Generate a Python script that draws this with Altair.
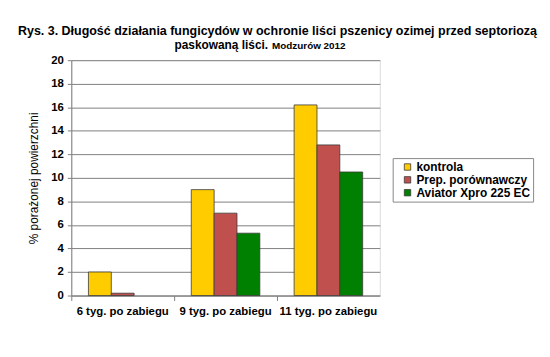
import altair as alt
import pandas as pd

categories = ["6 tyg. po zabiegu", "9 tyg. po zabiegu", "11 tyg. po zabiegu"]
series = ["kontrola", "Prep. porównawczy", "Aviator Xpro 225 EC"]
kontrola = [2.0, 9.0, 16.2]
prep = [0.2, 7.0, 12.8]
aviator = [0.0, 5.3, 10.5]
colors = ["#FFCC00", "#C0504D", "#008000"]
y_ticks = list(range(0, 21, 2))
title_line1 = "Rys. 3. Długość działania fungicydów w ochronie liści pszenicy ozimej przed septoriozą"
title_line2a = "paskowaną liści."
title_line2b = "Modzurów 2012"

rows = []
for s, vals in zip(series, [kontrola, prep, aviator]):
    for c, v in zip(categories, vals):
        rows.append({"okres": c, "seria": s, "wartosc": v})
df = pd.DataFrame(rows)

FONT = "Liberation Sans"

bars = alt.Chart(df).mark_bar(stroke="#3a3a3a", strokeWidth=0.8).encode(
    x=alt.X("okres:N", sort=categories, title=None,
            scale=alt.Scale(paddingInner=0, paddingOuter=0),
            axis=alt.Axis(labelAngle=0, bandPosition=0, grid=False,
                          labelFont=FONT, labelFontSize=11.5, labelFontWeight="bold",
                          labelColor="black", labelPadding=5, tickSize=5,
                          tickColor="#808080", domainColor="#808080")),
    xOffset=alt.XOffset("seria:N", sort=series,
                        scale=alt.Scale(paddingOuter=0.75, paddingInner=0)),
    y=alt.Y("wartosc:Q", title="% porażonej powierzchni",
            scale=alt.Scale(domain=[0, 20], nice=False),
            axis=alt.Axis(values=y_ticks, grid=True, gridColor="#808080",
                          gridWidth=1, labelFont=FONT, labelFontSize=11.5,
                          labelFontWeight="bold", labelColor="black",
                          labelPadding=4, tickSize=4, tickColor="#808080",
                          domainColor="#808080", titleFont=FONT,
                          titleFontSize=12, titleFontWeight="normal",
                          titleColor="black", titlePadding=10)),
    strokeOpacity=alt.condition(alt.datum.wartosc > 0, alt.value(1), alt.value(0)),
    color=alt.Color("seria:N", sort=series,
                    scale=alt.Scale(domain=series, range=colors),
                    legend=alt.Legend(title=None, orient="none", legendX=325,
                                      legendY=99, symbolType="square",
                                      symbolSize=42, symbolStrokeColor="#3a3a3a",
                                      symbolStrokeWidth=0.8, labelFont=FONT,
                                      labelFontSize=12, labelFontWeight="bold",
                                      labelColor="black", strokeColor="#888888",
                                      fillColor="white", padding=3,
                                      symbolOffset=6,
                                      rowPadding=1, labelOffset=3)),
)

def txt(s, size, align, x, y):
    return alt.Chart(pd.DataFrame({"t": [s]})).mark_text(
        font=FONT, fontSize=size, fontWeight="bold", align=align,
        baseline="alphabetic", color="black").encode(
        text="t:N", x=alt.value(x), y=alt.value(y))

t1 = txt(title_line1, 12.6, "center", 208.5, -25)
t2 = txt(title_line2a, 12, "right", 199, -11)
t3 = txt(title_line2b, 10, "left", 203, -11)

chart = alt.layer(bars, t1, t2, t3).properties(
    width=312, height=238,
    padding={"left": 10, "top": 16, "right": 5, "bottom": 5},
).configure_view(stroke="#808080", strokeWidth=1).configure(background="white")

chart.save("out.html", embed_options={"renderer": "svg", "actions": False})
